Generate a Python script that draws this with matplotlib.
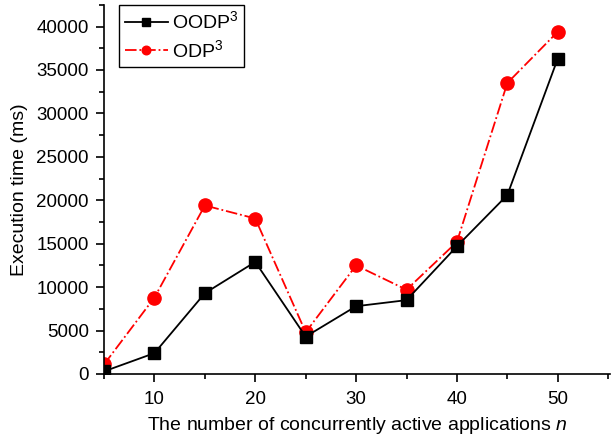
import matplotlib.pyplot as plt
from matplotlib.ticker import MultipleLocator

plt.rcParams['font.family'] = ['Liberation Sans', 'DejaVu Sans']
plt.rcParams['mathtext.fontset'] = 'custom'
plt.rcParams['mathtext.rm'] = 'Liberation Sans'
plt.rcParams['mathtext.it'] = 'Liberation Sans:italic'

# Data
n = [5, 10, 15, 20, 25, 30, 35, 40, 45, 50]
oodp = [300, 2400, 9300, 12900, 4300, 7800, 8500, 14700, 20600, 36300]
odp = [1100, 8800, 19400, 17900, 4800, 12500, 9700, 15200, 33500, 39400]

fig = plt.figure(figsize=(6.12, 4.41), dpi=100)
ax = fig.add_axes([0.170, 0.152, 0.827, 0.837])

ax.plot(n, odp, color='red', linestyle='-.', linewidth=1.3, marker='o',
        markersize=9.5, label=r'ODP$^3$', zorder=2)
ax.plot(n, oodp, color='black', linestyle='-', linewidth=1.3, marker='s',
        markersize=9, label=r'OODP$^3$', zorder=3)

ax.set_xlim(5, 55.2)
ax.set_ylim(0, 42500)
ax.xaxis.set_major_locator(MultipleLocator(10))
ax.xaxis.set_minor_locator(MultipleLocator(5))
ax.yaxis.set_major_locator(MultipleLocator(5000))
ax.yaxis.set_minor_locator(MultipleLocator(2500))

for s in ['top', 'right']:
    ax.spines[s].set_visible(False)
for s in ['left', 'bottom']:
    ax.spines[s].set_linewidth(1.2)

ax.tick_params(which='major', length=6, width=1.2, labelsize=13.5, direction='out')
ax.tick_params(which='minor', length=3.5, width=1.2, direction='out')
ax.tick_params(axis='x', which='major', pad=6)
ax.tick_params(axis='y', which='major', pad=5)

ax.set_xlabel(r'The number of concurrently active applications $\it{n}$',
              fontsize=14, labelpad=5)
ax.set_ylabel('Execution time (ms)', fontsize=14, labelpad=6)

handles, labels = ax.get_legend_handles_labels()
leg = ax.legend(handles[::-1], labels[::-1], loc='upper left',
                bbox_to_anchor=(0.03, 1.0), borderaxespad=0, fontsize=14,
                fancybox=False, edgecolor='black', framealpha=1,
                handlelength=2.2, handletextpad=0.2, borderpad=0.3,
                labelspacing=0.35, markerscale=0.65)
leg.get_frame().set_linewidth(1.0)

fig.savefig('out.png', dpi=100)
